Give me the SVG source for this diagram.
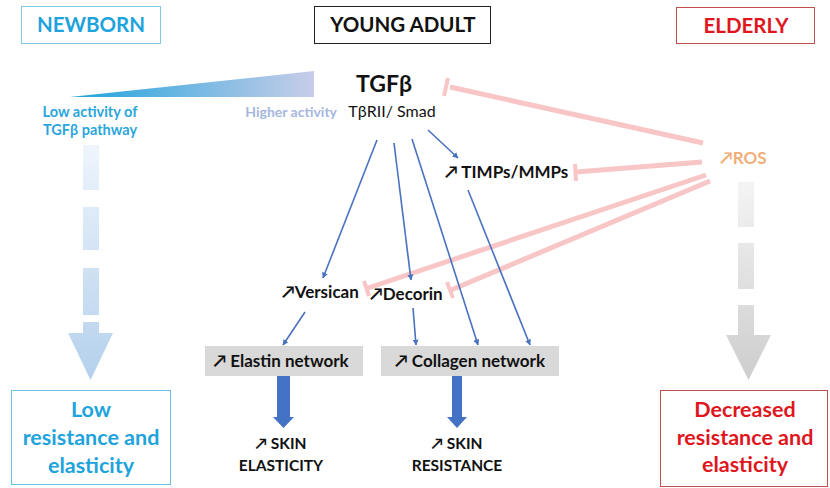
<svg xmlns="http://www.w3.org/2000/svg" width="830" height="488" viewBox="0 0 830 488">
<style>
text{font-family:Lato,"Open Sans","DejaVu Sans",sans-serif;font-weight:bold}
.c{text-anchor:middle}
.blk{fill:#111}
.cy{fill:#1ea3dc}
.rd{fill:#e0161e}
.inh{stroke:#f8c6c6;stroke-width:5;fill:none}
.bar{stroke:#f8c6c6;stroke-width:4;fill:none}
.ba{stroke:#4a72c0;stroke-width:1.6;fill:none;marker-end:url(#ah)}
.gbox{fill:#d9d9d9}
</style>
<defs>
<marker id="ah" viewBox="0 0 10 10" refX="9" refY="5" markerWidth="6" markerHeight="6" orient="auto" markerUnits="userSpaceOnUse"><path d="M0,0 L10,5 L0,10 z" fill="#4a72c0"/></marker>
<linearGradient id="tri" x1="0" y1="0" x2="1" y2="0"><stop offset="0" stop-color="#1ea3dc"/><stop offset="1" stop-color="#c8cde9"/></linearGradient>
<linearGradient id="lb" gradientUnits="userSpaceOnUse" x1="0" y1="145" x2="0" y2="380"><stop offset="0" stop-color="#eef5fc"/><stop offset="1" stop-color="#b4d0ec"/></linearGradient>
<linearGradient id="gr" gradientUnits="userSpaceOnUse" x1="0" y1="182" x2="0" y2="380"><stop offset="0" stop-color="#f4f4f4"/><stop offset="1" stop-color="#cdcdcd"/></linearGradient>
</defs>

<g id="newborn"><rect x="21.5" y="6.5" width="139" height="37" fill="#fff" stroke="#7fcbe6"/><text class="c cy" x="91" y="32" font-size="20.5">NEWBORN</text></g>
<g id="young-adult"><rect x="314.5" y="6.5" width="176" height="37" fill="#fff" stroke="#222"/><text class="c blk" x="403" y="32" font-size="20.5">YOUNG ADULT</text></g>
<g id="elderly"><rect x="676.5" y="7.5" width="138" height="36" fill="#fff" stroke="#c0504d"/><text class="c rd" x="746" y="33" font-size="20.5">ELDERLY</text></g>

<g id="activity-gradient"><polygon points="70,97 314,71 314,97" fill="url(#tri)"/>
<text class="c" x="90" y="117" font-size="14.5" fill="#2aa6dc">Low activity of</text>
<text class="c" x="90" y="135" font-size="14.5" fill="#2aa6dc">TGFβ pathway</text>
<text x="337" y="117" font-size="14" fill="#a6b6de" text-anchor="end">Higher activity</text></g>

<g id="tgfb"><text class="c blk" x="384" y="92" font-size="23">TGFβ</text><text class="c blk" x="392" y="117" font-size="16" style="font-weight:normal">TβRII/ Smad</text></g>

<g id="newborn-arrow" fill="url(#lb)"><rect x="83" y="145" width="16" height="45"/><rect x="83" y="207" width="16" height="43"/><rect x="83" y="268" width="16" height="47"/><rect x="83" y="322" width="16" height="12"/><polygon points="68,333 113,333 90.5,380"/></g>
<g id="elderly-arrow" fill="url(#gr)"><rect x="738" y="182" width="16" height="45"/><rect x="738" y="243" width="16" height="46"/><rect x="738" y="305" width="16" height="31"/><polygon points="726,335 771,335 748.5,380"/></g>

<g id="low-box"><rect x="11.5" y="390.5" width="159" height="94" fill="#fff" stroke="#6cc0e2"/>
<text class="c cy" x="91" y="417" font-size="21.5">Low</text><text class="c cy" x="91" y="445" font-size="21.5">resistance and</text><text class="c cy" x="91" y="473" font-size="21.5">elasticity</text></g>
<g id="decreased-box"><rect x="660.5" y="390.5" width="167" height="96" fill="#fff" stroke="#c0504d"/>
<text class="c rd" x="745" y="417" font-size="21.5">Decreased</text><text class="c rd" x="745" y="445" font-size="21.5">resistance and</text><text class="c rd" x="745" y="472" font-size="21.5">elasticity</text></g>

<g id="ros"><text x="720" y="164" font-size="17" fill="#f0ae78">↗ROS</text></g>
<g id="timps"><text class="blk" x="445" y="178" font-size="17">↗ TIMPs/MMPs</text></g>
<g id="versican"><text class="blk" x="282" y="298" font-size="17">↗Versican</text></g>
<g id="decorin"><text class="blk" x="370" y="300" font-size="17">↗Decorin</text></g>

<g id="elastin"><rect class="gbox" x="205" y="346" width="158" height="30"/><text class="c blk" x="281" y="367" font-size="17">↗ Elastin network</text></g>
<g id="collagen"><rect class="gbox" x="381" y="346" width="178" height="30"/><text class="c blk" x="470" y="367" font-size="17">↗ Collagen network</text></g>

<g id="skin-elasticity"><text class="c blk" x="281" y="449" font-size="15.5">↗ SKIN</text><text class="c blk" x="281" y="471" font-size="15.5">ELASTICITY</text></g>
<g id="skin-resistance"><text class="c blk" x="457" y="449" font-size="15.5">↗ SKIN</text><text class="c blk" x="457" y="471" font-size="15.5">RESISTANCE</text></g>

<g id="connectors">
<line class="inh" x1="703" y1="143" x2="450" y2="87"/><line class="bar" x1="448" y1="78" x2="444" y2="96"/>
<line class="inh" x1="702" y1="162" x2="576" y2="172"/><line class="bar" x1="575" y1="164" x2="576" y2="181"/>
<line class="inh" x1="706" y1="175" x2="368" y2="288"/><line class="bar" x1="364" y1="281" x2="369" y2="296"/>
<line class="inh" x1="710" y1="181" x2="451" y2="290"/><line class="bar" x1="447" y1="282" x2="453" y2="298"/>
<line class="ba" x1="377" y1="140" x2="323" y2="278"/>
<line class="ba" x1="394" y1="143" x2="411" y2="280"/>
<line class="ba" x1="412" y1="139" x2="478" y2="345"/>
<line class="ba" x1="428" y1="130" x2="458" y2="158"/>
<line class="ba" x1="468" y1="190" x2="530" y2="345"/>
<line class="ba" x1="305" y1="312" x2="283" y2="345"/>
<line class="ba" x1="413" y1="308" x2="416" y2="345"/>
<path d="M277,376 H290 V417 H294 L283.5,428 L273,417 H277 Z" fill="#4472c4"/>
<path d="M452,376 H462 V417 H467 L457,428 L447,417 H452 Z" fill="#4472c4"/>
</g>
</svg>
